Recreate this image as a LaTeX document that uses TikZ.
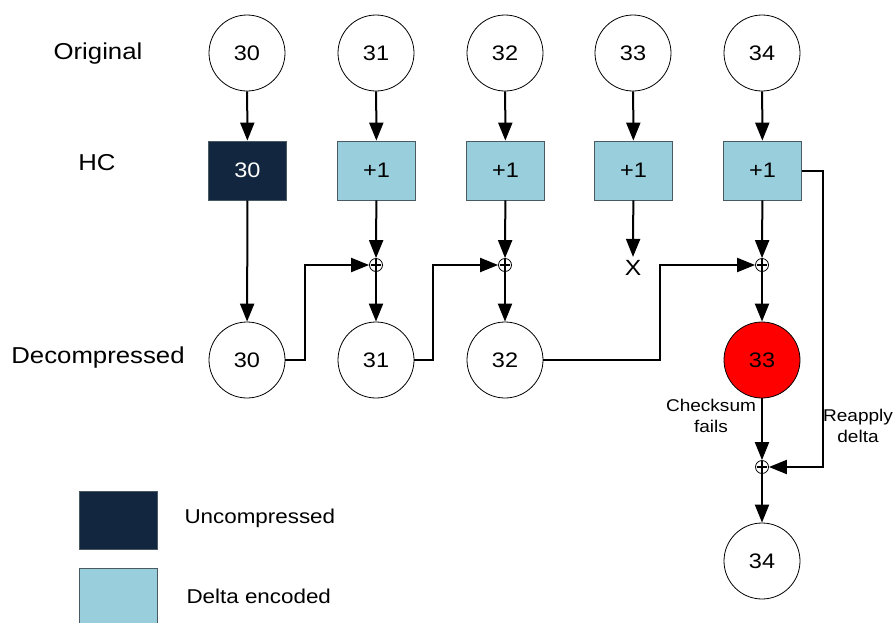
\documentclass[tikz,border=0pt]{standalone}
\usepackage{fontspec}
\setmainfont{Liberation Sans}[FakeStretch=1.12]
\usetikzlibrary{arrows.meta}
\definecolor{navy}{HTML}{12263F}
\definecolor{deltablue}{HTML}{99CFDD}
\definecolor{boxedge}{HTML}{4A5A62}
\begin{document}
\begin{tikzpicture}[x=1pt,y=-1pt,
  value/.style={draw, circle, minimum size=76pt, inner sep=0pt, line width=0.8pt,
    font=\fontsize{21}{24}\selectfont},
  hcbox/.style={draw=boxedge, rectangle, minimum width=78pt, minimum height=59pt,
    inner sep=0pt, line width=0.8pt, font=\fontsize{21}{24}\selectfont},
  uncomp/.style={hcbox, fill=navy, text=white},
  delta/.style={hcbox, fill=deltablue},
  junc/.style={draw, circle, fill=white, minimum size=13pt, inner sep=0pt, line width=0.8pt,
    path picture={\draw[line width=2pt]
      (path picture bounding box.north) -- (path picture bounding box.south)
      ([xshift=1.5pt]path picture bounding box.west) -- ([xshift=-1.5pt]path picture bounding box.east);}},
  flow/.style={line width=2pt, -{Triangle[length=18pt,width=14pt]}},
  rowlabel/.style={font=\fontsize{23}{26}\selectfont},
  note/.style={font=\fontsize{17}{21}\selectfont, align=center},
  legendtext/.style={font=\fontsize{20}{23}\selectfont, anchor=west}]
\useasboundingbox (0,0) rectangle (894,622);
\clip (0,0) rectangle (894,622);

% row labels
\node[rowlabel] (lorig) at (98,54) {Original};
\node[rowlabel] (lhc) at (97,163) {HC};
\node[rowlabel] (ldec) at (98,358) {Decompressed};

% original values
\node[value] (o1) at (247,53) {30};
\node[value] (o2) at (376,53) {31};
\node[value] (o3) at (505,53) {32};
\node[value] (o4) at (633,53) {33};
\node[value] (o5) at (762,53) {34};

% header-compressed packets
\node[uncomp] (h1) at (247.5,170.5) {30};
\node[delta] (h2) at (376.5,170.5) {+1};
\node[delta] (h3) at (505.5,170.5) {+1};
\node[delta] (h4) at (633.5,170.5) {+1};
\node[delta] (h5) at (762.5,170.5) {+1};

% adders
\node[junc] (j2) at (376,265) {};
\node[junc] (j3) at (505,265) {};
\node (x4) at (633,268) {\fontsize{22}{24}\selectfont X};
\node[junc] (j5) at (762,265) {};
\node[junc] (j6) at (762,467) {};

% decompressed values
\node[value] (d1) at (247,360) {30};
\node[value] (d2) at (376,360) {31};
\node[value] (d3) at (505,360) {32};
\node[value, fill=red] (d4) at (762,360) {33};
\node[value] (d5) at (762,561) {34};

% original -> HC
\foreach \i in {1,...,5} \draw[flow] (o\i) -- (h\i);

% HC -> adders / decompressed
\draw[flow] (h1) -- (d1);
\draw[flow] (h2) -- (j2);
\draw[flow] (h3) -- (j3);
\draw[flow] (h4) -- (x4.north);
\draw[flow] (h5) -- (j5);

% previous decompressed value feeds the adder
\draw[flow] (d1.east) -- ([xshift=20pt]d1.east) |- (j2.west);
\draw[flow] (d2.east) -- ([xshift=19pt]d2.east) |- (j3.west);
\draw[flow] (d3.east) -- ([xshift=117pt]d3.east) |- (j5.west);

\draw[flow] (j2) -- (d2);
\draw[flow] (j3) -- (d3);
\draw[flow] (j5) -- (d4);

% recovery path
\draw[flow] (d4) -- (j6);
\draw[flow] (h5.east) -- ([xshift=21pt]h5.east) |- (j6.east);
\draw[flow] (j6) -- (d5);

\node[note] (ck) at (711,416) {Checksum\\fails};
\node[note] (ra) at (858,426) {Reapply\\delta};

% legend
\node[uncomp, minimum height=58pt] (k1) at (118.5,520) {};
\node[delta, minimum height=60pt] (k2) at (118.5,598) {};
\node[legendtext] (t1) at (181,518) {Uncompressed};
\node[legendtext] (t2) at (183,596) {Delta encoded};
\end{tikzpicture}
\end{document}
